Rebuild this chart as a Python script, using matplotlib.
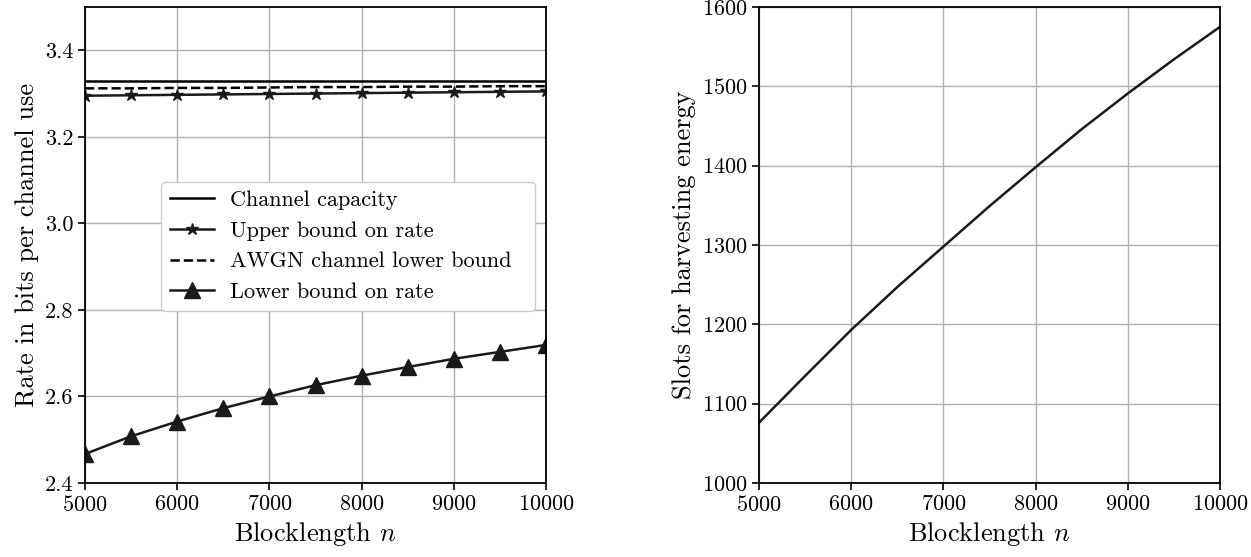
import numpy as np
import matplotlib
matplotlib.use('Agg')
import matplotlib.pyplot as plt

plt.rcParams['font.family'] = ['cmr10', 'DejaVu Serif']
plt.rcParams['mathtext.fontset'] = 'cm'
plt.rcParams['axes.formatter.use_mathtext'] = True
plt.rcParams['axes.unicode_minus'] = False

# blocklength grid
n = [5000, 5500, 6000, 6500, 7000, 7500, 8000, 8500, 9000, 9500, 10000]

capacity = [3.330] * len(n)
upper_bound = [3.295, 3.296, 3.297, 3.298, 3.299, 3.300, 3.301, 3.302, 3.303, 3.304, 3.305]
awgn_lower = [3.312, 3.312, 3.313, 3.313, 3.314, 3.315, 3.315, 3.316, 3.316, 3.317, 3.317]
lower_bound = [2.467, 2.508, 2.542, 2.573, 2.600, 2.626, 2.648, 2.668, 2.687, 2.703, 2.719]

slots = [1076, 1135, 1193, 1247, 1298, 1349, 1398, 1446, 1491, 1534, 1575]

W, H = 1251, 557
fig = plt.figure(figsize=(W / 100, H / 100), dpi=100)
ax1 = fig.add_axes([85 / W, (H - 483) / H, 461 / W, 476 / H])
ax2 = fig.add_axes([759 / W, (H - 483) / H, 461 / W, 476 / H])

lw = 1.8
ax1.plot(n, capacity, color='black', lw=lw, label='Channel capacity')
ax1.plot(n, upper_bound, color='#1a1a1a', lw=lw, marker='*', ms=9, label='Upper bound on rate')
ax1.plot(n, awgn_lower, color='black', lw=lw, ls='--', label='AWGN channel lower bound')
ax1.plot(n, lower_bound, color='#1a1a1a', lw=lw, marker='^', ms=11, label='Lower bound on rate')

ax1.set_xlim(5000, 10000)
ax1.set_ylim(2.4, 3.5)
ax1.set_yticks([2.4, 2.6, 2.8, 3.0, 3.2, 3.4])
ax1.set_yticklabels(['2.4', '2.6', '2.8', '3.0', '3.2', '3.4'])
ax1.set_xticks([5000, 6000, 7000, 8000, 9000, 10000])
ax1.set_xlabel('Blocklength $n$', fontsize=19)
ax1.set_ylabel('Rate in bits per channel use', fontsize=19)
leg = ax1.legend(loc='upper left', bbox_to_anchor=(0.165, 0.363, 0.811, 0.27),
                 mode='expand', borderaxespad=0, fontsize=16, handlelength=2.0,
                 handletextpad=0.7, framealpha=1.0)

ax2.plot(n, slots, color='#1a1a1a', lw=lw)
ax2.set_xlim(5000, 10000)
ax2.set_ylim(1000, 1600)
ax2.set_xticks([5000, 6000, 7000, 8000, 9000, 10000])
ax2.set_xlabel('Blocklength $n$', fontsize=19)
ax2.set_ylabel('Slots for harvesting energy', fontsize=19)

for ax in (ax1, ax2):
    ax.grid(True, color='#b0b0b0', lw=1.0)
    ax.set_axisbelow(True)
    ax.tick_params(labelsize=16, width=1.2, length=5)
    for s in ax.spines.values():
        s.set_linewidth(1.3)

fig.savefig('out.png', dpi=100)
